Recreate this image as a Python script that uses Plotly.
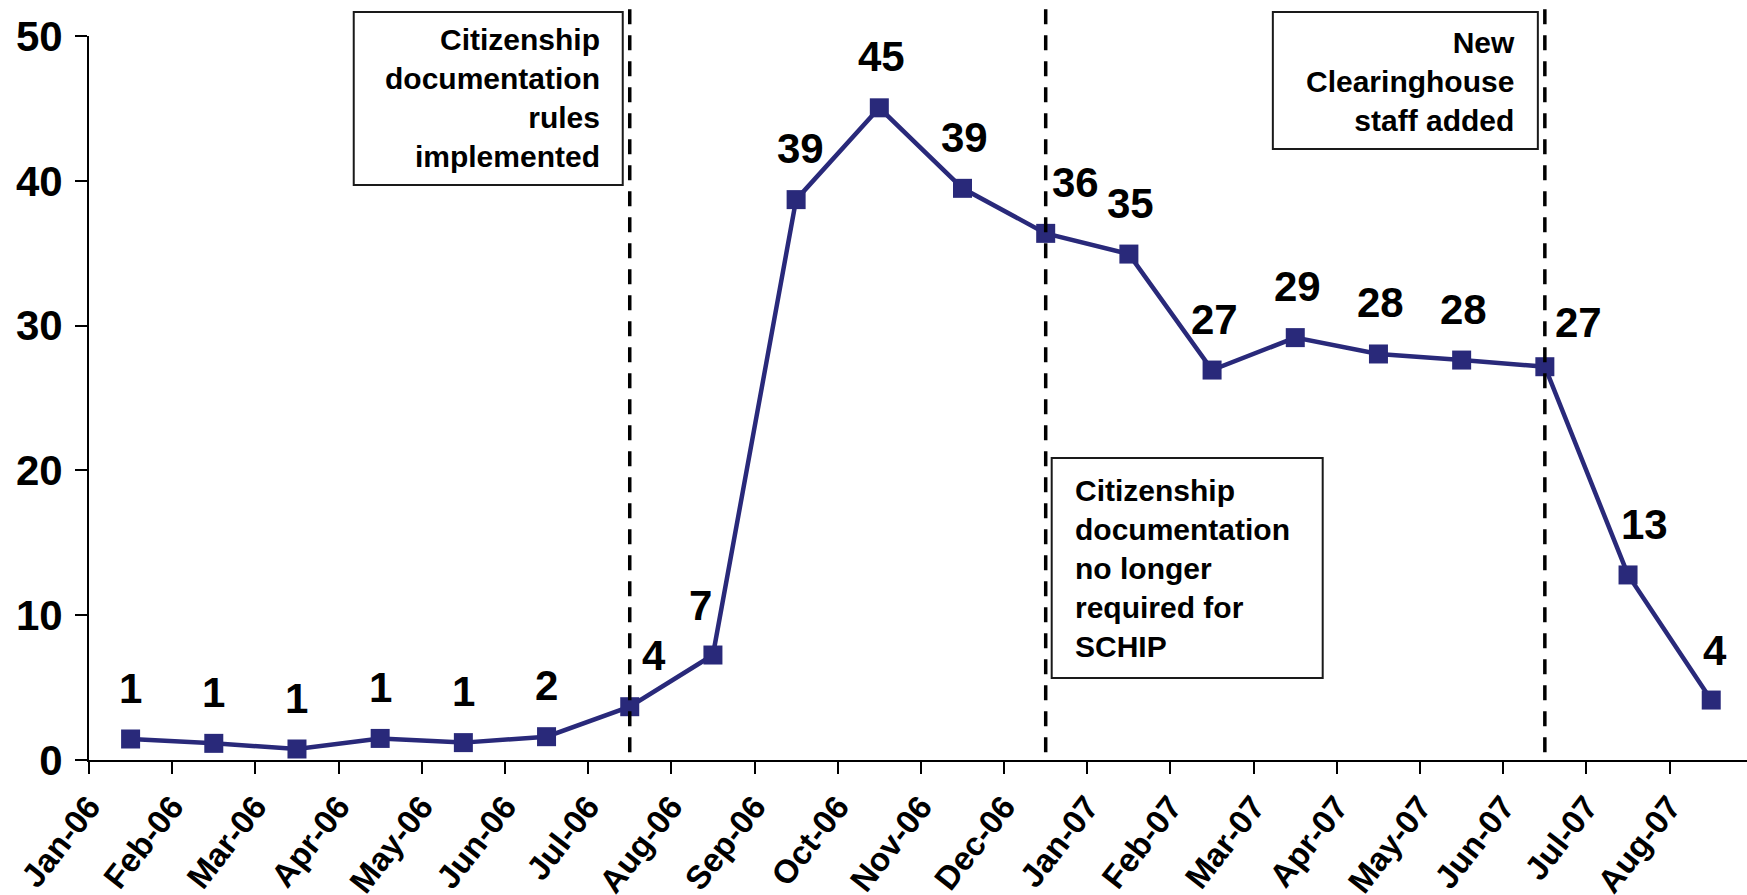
import plotly.graph_objects as go

# Monthly series, Jan-2006 .. Aug-2007
months = ["Jan-06", "Feb-06", "Mar-06", "Apr-06", "May-06", "Jun-06", "Jul-06",
          "Aug-06", "Sep-06", "Oct-06", "Nov-06", "Dec-06", "Jan-07", "Feb-07",
          "Mar-07", "Apr-07", "May-07", "Jun-07", "Jul-07", "Aug-07"]
values = [1.45, 1.15, 0.76, 1.49, 1.20, 1.61, 3.68, 7.25, 38.70, 45.04,
          39.48, 36.37, 34.94, 26.93, 29.17, 28.04, 27.62, 27.16, 12.78, 4.14]

# Policy events marked with dashed lines
event_months = ["Jul-06", "Dec-06", "Jun-07"]
event_texts = ["Citizenship<br>documentation<br>rules<br>implemented",
               "Citizenship<br>documentation<br>no longer<br>required for<br>SCHIP",
               "New<br>Clearinghouse<br>staff added"]

# ---- styling ----
NAVY = "#29297A"
FONT = "Liberation Sans, Arial, sans-serif"

# per-label nudges (pixels) for the value labels
label_dx = [0, 0, 0, 0, 0, 0, 24, -12, 4, 2, 2, 30, 2, 2, 2, 2, 2, 34, 16, 4]
label_dy = [51, 51, 51, 51, 51, 51, 51, 50, 51, 51, 51, 51, 51, 51, 51, 51, 51, 44, 50, 50]

# callout boxes: pixel extents relative to the event line / plot top
box_x = [(-276, -7), (6, 277), (-272, -7)]
box_y = [(24, -149), (-422, -642), (24, -113)]
text_anchor = ["right", "left", "right"]
text_dx = [-30, 29, -30]
text_dy = [-62, -532, -45]

x_pos = [i + 0.5 for i in range(len(months))]
month_index = {m: i for i, m in enumerate(months)}

fig = go.Figure()
fig.add_trace(go.Scatter(
    x=x_pos, y=values, mode="lines+markers",
    line=dict(color=NAVY, width=4.5),
    marker=dict(symbol="square", size=19, color=NAVY),
    cliponaxis=False, hoverinfo="skip", showlegend=False,
))

shapes = []
annotations = []

for k, m in enumerate(event_months):
    ex = month_index[m] + 0.5
    shapes.append(dict(type="line", xref="x", yref="paper", x0=ex, x1=ex,
                       y0=1.037, y1=0, line=dict(color="black", width=3.5, dash="15px,11px")))
    shapes.append(dict(type="rect", xref="x", xsizemode="pixel", xanchor=ex,
                       x0=box_x[k][0], x1=box_x[k][1],
                       yref="paper", ysizemode="pixel", yanchor=1,
                       y0=box_y[k][0], y1=box_y[k][1],
                       line=dict(color="#1a1a1a", width=2), fillcolor="white"))
    annotations.append(dict(xref="x", x=ex, yref="paper", y=1,
                            xanchor=text_anchor[k], yanchor="middle",
                            xshift=text_dx[k], yshift=text_dy[k],
                            text=event_texts[k], align=text_anchor[k],
                            showarrow=False, borderpad=0, borderwidth=0,
                            font=dict(family=FONT, size=30, color="black", weight="bold")))

for i, v in enumerate(values):
    annotations.append(dict(xref="x", yref="y", x=x_pos[i], y=v,
                            text=f"{v:.0f}", showarrow=False,
                            xanchor="center", yanchor="middle",
                            xshift=label_dx[i], yshift=label_dy[i],
                            font=dict(family=FONT, size=42, color="black", weight="bold")))

fig.update_layout(
    width=1747, height=895,
    margin=dict(l=89, r=0, t=36, b=135, pad=0),
    paper_bgcolor="white", plot_bgcolor="white",
    template="none",
    shapes=shapes, annotations=annotations,
    xaxis=dict(range=[0, 19.93], tickmode="array",
               tickvals=list(range(len(months))), ticktext=months,
               tickangle=-52, ticks="outside", ticklen=12, tickwidth=2,
               tickcolor="black", showline=True, linewidth=2, linecolor="black",
               showgrid=False, zeroline=False, automargin=False,
               tickfont=dict(family=FONT, size=33, color="black", weight="bold")),
    yaxis=dict(range=[0, 50], tickmode="linear", tick0=0, dtick=10,
               ticks="outside", ticklen=12, tickwidth=2, tickcolor="black",
               showline=True, linewidth=2, linecolor="black",
               showgrid=False, zeroline=False, automargin=False,
               ticklabelstandoff=4,
               tickfont=dict(family=FONT, size=42, color="black", weight="bold")),
)

fig.write_html("out.html", config={"displayModeBar": False})
